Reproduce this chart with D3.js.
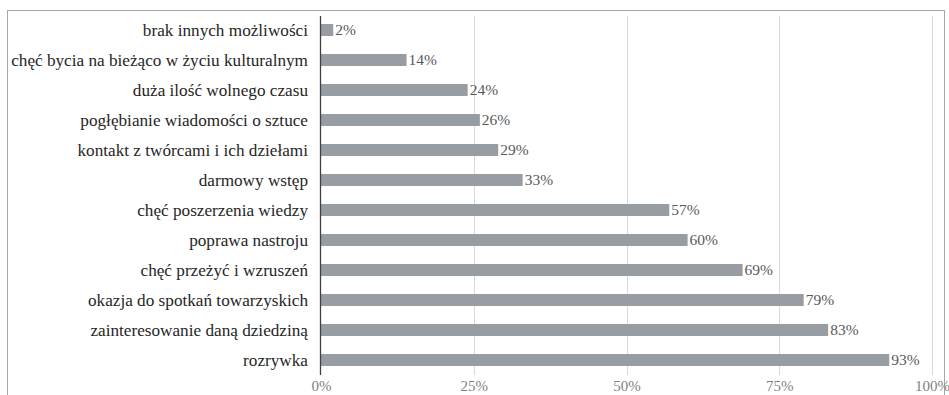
<!DOCTYPE html>
<html><head><meta charset="utf-8">
<script src="https://cdn.jsdelivr.net/npm/d3@7"></script>
<style>
html,body{margin:0;padding:0;background:#fff;}
svg{display:block;}
svg text{font-family:"Liberation Serif","DejaVu Serif",serif;}
</style>
</head><body>
<svg id="chart" width="949" height="395"></svg>
<script>
const categories = [
  "brak innych możliwości",
  "chęć bycia na bieżąco w życiu kulturalnym",
  "duża ilość wolnego czasu",
  "pogłębianie wiadomości o sztuce",
  "kontakt z twórcami i ich dziełami",
  "darmowy wstęp",
  "chęć poszerzenia wiedzy",
  "poprawa nastroju",
  "chęć przeżyć i wzruszeń",
  "okazja do spotkań towarzyskich",
  "zainteresowanie daną dziedziną",
  "rozrywka"
];
const values = [2, 14, 24, 26, 29, 33, 57, 60, 69, 79, 83, 93];
const tickValues = [0, 25, 50, 75, 100];
const tickLabels = ["0%", "25%", "50%", "75%", "100%"];

const svg = d3.select("#chart");

// outer frame
svg.append("rect").attr("x", 7.5).attr("y", 10.5).attr("width", 937).attr("height", 400)
  .attr("fill", "none").attr("stroke", "#a6a6a6").attr("stroke-width", 1);

const x = d3.scaleLinear().domain([0, 100]).range([321, 932]);
const y = d3.scaleBand().domain(categories).range([15, 375]).paddingInner(0.6).paddingOuter(0.3);

// gridlines
svg.append("g").selectAll("line").data(tickValues.slice(1)).join("line")
  .attr("x1", d => Math.round(x(d)) + 0.5).attr("x2", d => Math.round(x(d)) + 0.5)
  .attr("y1", 16).attr("y2", 375)
  .attr("stroke", "#d9d9d9").attr("stroke-width", 1);

// x axis labels
const xAxis = d3.axisBottom(x).tickValues(tickValues).tickFormat((d, i) => tickLabels[i]).tickSize(0).tickPadding(0);
const gx = svg.append("g").attr("transform", "translate(0,391)").call(xAxis);
gx.attr("font-family", null).attr("font-size", null);
gx.select(".domain").remove();
gx.selectAll("text").style("font-size", "15px").attr("fill", "#7f7f7f").attr("dy", "0");

// bars
svg.append("g").selectAll("rect").data(values).join("rect")
  .attr("x", x(0)).attr("y", (d, i) => y(categories[i]))
  .attr("width", d => x(d) - x(0)).attr("height", y.bandwidth())
  .attr("fill", "#989ca3");

// value labels
svg.append("g").selectAll("text").data(values).join("text")
  .attr("x", d => x(d) + 2).attr("y", (d, i) => y(categories[i]) + y.bandwidth() / 2)
  .attr("dy", "0.35em")
  .style("font-size", "15.5px").attr("fill", "#595959")
  .text(d => d + "%");

// y axis
const yAxis = d3.axisLeft(y).tickSize(0).tickPadding(13);
const gy = svg.append("g").attr("transform", `translate(${x(0)},0)`).call(yAxis);
gy.attr("font-family", null).attr("font-size", null);
gy.select(".domain").remove();
gy.selectAll("text").style("font-size", "17.2px").attr("fill", "#262626");

svg.append("line").attr("x1", 320.5).attr("x2", 320.5).attr("y1", 16).attr("y2", 375)
  .attr("stroke", "#404040").attr("stroke-width", 1.3);
</script>
</body></html>
